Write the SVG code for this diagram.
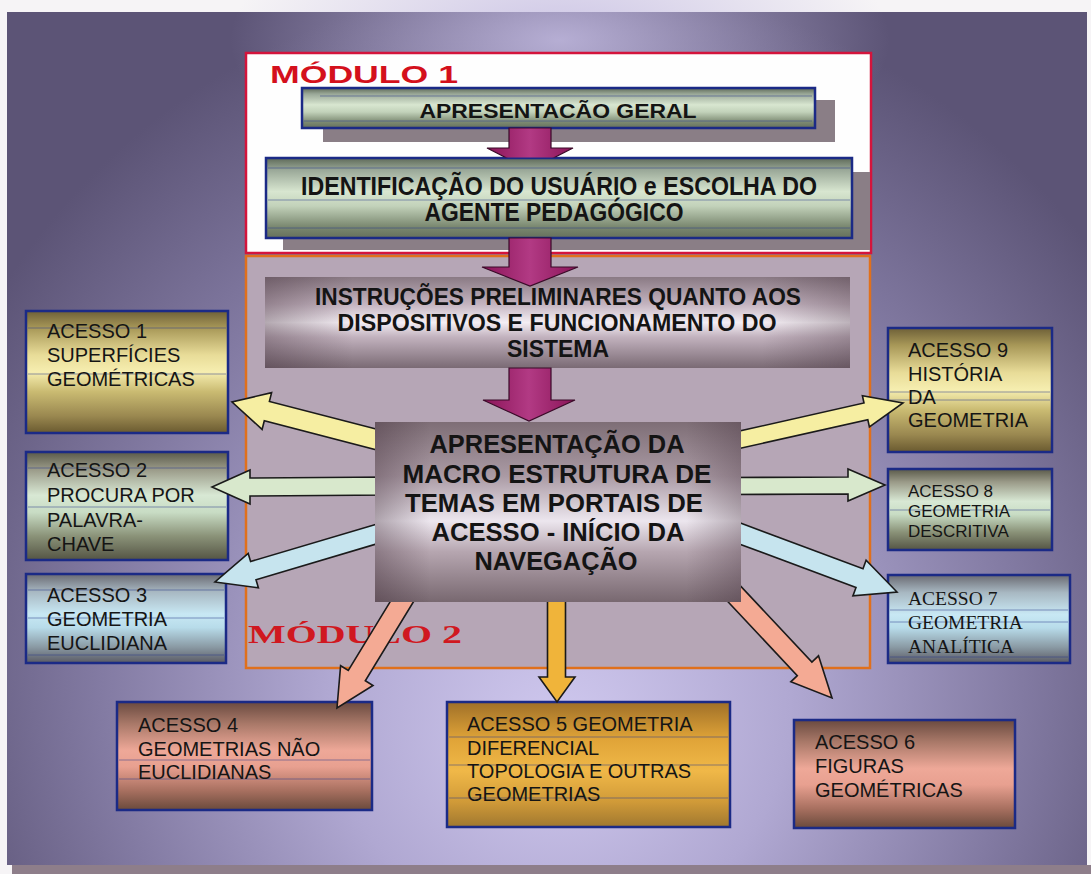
<svg xmlns="http://www.w3.org/2000/svg" width="1091" height="874" viewBox="0 0 1091 874" xml:space="preserve">
<style>
  .lbl { font-family: "Liberation Sans", Arial, sans-serif; font-size: 20px; fill: #151515; }
  .sm { font-size: 17px; }
  .serif { font-family: "Liberation Serif", "Times New Roman", serif; font-size: 19.5px; fill: #151515; }
  .bold { font-family: "Liberation Sans", Arial, sans-serif; font-weight: bold; fill: #141414; text-anchor: middle; }
  .box { stroke: #1b2a86; stroke-width: 2.5; }
  .arr { stroke: #1a1a1a; stroke-width: 1.6; stroke-linejoin: miter; }
  .mag { fill: url(#gMag); stroke: #3a0a28; stroke-width: 1.2; }
  .scan { stroke: #2c3c8c; stroke-width: 1; opacity: 0.5; }
  .shadow { fill: #8a7e86; }
</style>
<defs>
  <radialGradient id="bg" gradientUnits="userSpaceOnUse" cx="560" cy="640" r="660" fx="560" fy="740">
    <stop offset="0" stop-color="#d0c9ef"/>
    <stop offset="0.35" stop-color="#b0a8d2"/>
    <stop offset="0.7" stop-color="#827aa2"/>
    <stop offset="1" stop-color="#5c5476"/>
  </radialGradient>
  <radialGradient id="glow" cx="0.5" cy="0.5" r="0.5">
    <stop offset="0" stop-color="#c4bce2" stop-opacity="0.85"/>
    <stop offset="1" stop-color="#c4bce2" stop-opacity="0"/>
  </radialGradient>
  <linearGradient id="gMod" x1="0" y1="0" x2="0" y2="1">
    <stop offset="0" stop-color="#5e6a58"/>
    <stop offset="0.15" stop-color="#9aa898"/>
    <stop offset="0.42" stop-color="#d8e6d0"/>
    <stop offset="0.6" stop-color="#c2d2ba"/>
    <stop offset="0.85" stop-color="#7c8a72"/>
    <stop offset="1" stop-color="#66705c"/>
  </linearGradient>
  <linearGradient id="gInstr" x1="0" y1="0" x2="0" y2="1">
    <stop offset="0" stop-color="#8a7a84"/>
    <stop offset="0.3" stop-color="#c4b4c0"/>
    <stop offset="0.5" stop-color="#f4eef4"/>
    <stop offset="0.66" stop-color="#c2b2be"/>
    <stop offset="1" stop-color="#7a6a74"/>
  </linearGradient>
  <linearGradient id="gCenter" x1="0" y1="0" x2="0" y2="1">
    <stop offset="0" stop-color="#7e6e76"/>
    <stop offset="0.3" stop-color="#aa9aa4"/>
    <stop offset="0.55" stop-color="#ece6ee"/>
    <stop offset="0.72" stop-color="#b6a6b0"/>
    <stop offset="1" stop-color="#786870"/>
  </linearGradient>
  <linearGradient id="gEdge" x1="0" y1="0" x2="1" y2="0">
    <stop offset="0" stop-color="#3c2834" stop-opacity="0.35"/>
    <stop offset="0.15" stop-color="#3c2834" stop-opacity="0"/>
    <stop offset="0.85" stop-color="#3c2834" stop-opacity="0"/>
    <stop offset="1" stop-color="#3c2834" stop-opacity="0.3"/>
  </linearGradient>
  <linearGradient id="gGold" x1="0" y1="0" x2="0" y2="1">
    <stop offset="0" stop-color="#6e6038"/>
    <stop offset="0.14" stop-color="#a89858"/>
    <stop offset="0.36" stop-color="#e8dc98"/>
    <stop offset="0.5" stop-color="#f6eeb0"/>
    <stop offset="0.66" stop-color="#cabb72"/>
    <stop offset="0.86" stop-color="#9a8850"/>
    <stop offset="1" stop-color="#6a5a30"/>
  </linearGradient>
  <linearGradient id="gGreen" x1="0" y1="0" x2="0" y2="1">
    <stop offset="0" stop-color="#5a5a4a"/>
    <stop offset="0.16" stop-color="#9a9a88"/>
    <stop offset="0.4" stop-color="#d8e8d4"/>
    <stop offset="0.56" stop-color="#c8dcc4"/>
    <stop offset="0.78" stop-color="#8a9278"/>
    <stop offset="1" stop-color="#545444"/>
  </linearGradient>
  <linearGradient id="gBlue" x1="0" y1="0" x2="0" y2="1">
    <stop offset="0" stop-color="#6a6a72"/>
    <stop offset="0.2" stop-color="#a8b8c2"/>
    <stop offset="0.45" stop-color="#c8e8f4"/>
    <stop offset="0.6" stop-color="#b8dcea"/>
    <stop offset="0.82" stop-color="#8a9aa4"/>
    <stop offset="1" stop-color="#5a5a64"/>
  </linearGradient>
  <linearGradient id="gCopper" x1="0" y1="0" x2="0" y2="1">
    <stop offset="0" stop-color="#6a4a40"/>
    <stop offset="0.2" stop-color="#a87868"/>
    <stop offset="0.45" stop-color="#eea898"/>
    <stop offset="0.6" stop-color="#e8a090"/>
    <stop offset="0.82" stop-color="#a87060"/>
    <stop offset="1" stop-color="#6a4a3c"/>
  </linearGradient>
  <linearGradient id="gOrange" x1="0" y1="0" x2="0" y2="1">
    <stop offset="0" stop-color="#a07028"/>
    <stop offset="0.3" stop-color="#e0a438"/>
    <stop offset="0.55" stop-color="#f0b848"/>
    <stop offset="0.8" stop-color="#d09a38"/>
    <stop offset="1" stop-color="#a07830"/>
  </linearGradient>
  <linearGradient id="gMag" x1="0" y1="0" x2="1" y2="0">
    <stop offset="0" stop-color="#8a1458"/>
    <stop offset="0.5" stop-color="#b23a84"/>
    <stop offset="1" stop-color="#8a1458"/>
  </linearGradient>
  <clipPath id="clipTop">
    <rect x="400" y="120" width="300" height="37.5"/>
  </clipPath>
</defs>

<!-- page and backdrop -->
<g id="background">
  <rect x="0" y="0" width="1091" height="874" fill="#f6f4f6"/>
  <rect x="12" y="865" width="1079" height="9" fill="#8e7e8a"/>
  <rect x="7" y="12" width="1080" height="853" fill="url(#bg)"/>
  <ellipse cx="560" cy="40" rx="330" ry="140" fill="url(#glow)"/>
</g>

<!-- module frames -->
<g id="modulo1">
  <rect x="246" y="53" width="625" height="200" fill="#fefefe" stroke="#d4143c" stroke-width="2.5"/>
  <text x="270" y="83" font-family="'Liberation Sans', Arial, sans-serif" font-weight="bold" font-size="24" fill="#d4101c" textLength="188" lengthAdjust="spacingAndGlyphs">MÓDULO 1</text>
</g>
<g id="modulo2">
  <rect x="246" y="256" width="624" height="412" fill="#b6a6b6" stroke="#e0701c" stroke-width="2.5"/>
  <text x="248" y="643" font-family="'Liberation Serif', 'Times New Roman', serif" font-weight="bold" font-size="25" fill="#d01820" textLength="214" lengthAdjust="spacingAndGlyphs">MÓDULO 2</text>
</g>

<!-- module 1 steps -->
<g id="apresentacao-geral">
  <rect class="shadow" x="323" y="100" width="512" height="42"/>
  <rect class="box" x="302" y="88" width="513" height="40" fill="url(#gMod)"/>
  <line class="scan" x1="320" y1="96" x2="812" y2="96"/>
  <line class="scan" x1="304" y1="121" x2="812" y2="121"/>
  <text class="bold" x="558" y="118" font-size="21" textLength="277" lengthAdjust="spacingAndGlyphs">APRESENTACÃO GERAL</text>
</g>
<g id="identificacao">
  <rect class="shadow" x="283" y="172" width="587" height="78"/>
  <rect class="box" x="266" y="158" width="586" height="80" fill="url(#gMod)"/>
  <line class="scan" x1="268" y1="168" x2="850" y2="168"/>
  <line class="scan" x1="268" y1="200" x2="850" y2="200"/>
  <line class="scan" x1="268" y1="228" x2="850" y2="228"/>
  <text class="bold" x="559" y="195" font-size="25" textLength="516" lengthAdjust="spacingAndGlyphs">IDENTIFICAÇÃO DO USUÁRIO e  ESCOLHA DO</text>
  <text class="bold" x="554" y="221" font-size="25" textLength="259" lengthAdjust="spacingAndGlyphs">AGENTE PEDAGÓGICO</text>
</g>

<!-- module 2 steps -->
<g id="instrucoes">
  <rect x="265" y="277" width="585" height="91" fill="url(#gInstr)"/>
  <rect x="265" y="277" width="585" height="91" fill="url(#gEdge)"/>
  <text class="bold" x="558" y="305" font-size="23" textLength="486" lengthAdjust="spacingAndGlyphs">INSTRUÇÕES PRELIMINARES QUANTO AOS</text>
  <text class="bold" x="557" y="331" font-size="23" textLength="439" lengthAdjust="spacingAndGlyphs">DISPOSITIVOS E  FUNCIONAMENTO DO</text>
  <text class="bold" x="558" y="357" font-size="23" textLength="102" lengthAdjust="spacingAndGlyphs">SISTEMA</text>
</g>

<!-- access portals -->
<g id="acesso1">
  <rect class="box" x="26" y="311" width="202" height="122" fill="url(#gGold)"/>
  <line class="scan" x1="28" y1="328" x2="226" y2="328"/>
  <line class="scan" x1="28" y1="374" x2="226" y2="374"/>
  <text class="lbl" x="47" y="338">ACESSO  1</text>
  <text class="lbl" x="47" y="362">SUPERFÍCIES</text>
  <text class="lbl" x="47" y="386">GEOMÉTRICAS</text>
</g>
<g id="acesso2">
  <rect class="box" x="26" y="452" width="202" height="108" fill="url(#gGreen)"/>
  <line class="scan" x1="28" y1="468" x2="226" y2="468"/>
  <line class="scan" x1="28" y1="507" x2="226" y2="507"/>
  <text class="lbl" x="47" y="477">ACESSO  2</text>
  <text class="lbl" x="47" y="502">PROCURA POR</text>
  <text class="lbl" x="47" y="527">PALAVRA-</text>
  <text class="lbl" x="47" y="551">CHAVE</text>
</g>
<g id="acesso3">
  <rect class="box" x="26" y="574" width="200" height="89" fill="url(#gBlue)"/>
  <line class="scan" x1="28" y1="590" x2="224" y2="590"/>
  <line class="scan" x1="28" y1="618" x2="224" y2="618"/>
  <line class="scan" x1="28" y1="655" x2="224" y2="655"/>
  <text class="lbl" x="47" y="602">ACESSO  3</text>
  <text class="lbl" x="47" y="626">GEOMETRIA</text>
  <text class="lbl" x="47" y="650">EUCLIDIANA</text>
</g>
<g id="acesso9">
  <rect class="box" x="888" y="328" width="164" height="124" fill="url(#gGold)"/>
  <line class="scan" x1="890" y1="392" x2="1050" y2="392"/>
  <line class="scan" x1="890" y1="400" x2="1050" y2="400"/>
  <text class="lbl" x="908" y="357">ACESSO  9</text>
  <text class="lbl" x="908" y="381">HISTÓRIA</text>
  <text class="lbl" x="908" y="404">DA</text>
  <text class="lbl" x="908" y="427">GEOMETRIA</text>
</g>
<g id="acesso8">
  <rect class="box" x="888" y="469" width="164" height="81" fill="url(#gGreen)"/>
  <line class="scan" x1="890" y1="510" x2="1050" y2="510"/>
  <text class="lbl sm" x="908" y="497">ACESSO  8</text>
  <text class="lbl sm" x="908" y="517">GEOMETRIA</text>
  <text class="lbl sm" x="908" y="537">DESCRITIVA</text>
</g>
<g id="acesso7">
  <rect class="box" x="888" y="575" width="182" height="88" fill="url(#gBlue)"/>
  <line class="scan" x1="890" y1="610" x2="1068" y2="610"/>
  <line class="scan" x1="890" y1="622" x2="1068" y2="622"/>
  <line class="scan" x1="890" y1="657" x2="1068" y2="657"/>
  <text class="serif" x="908" y="605">ACESSO  7</text>
  <text class="serif" x="908" y="629">GEOMETRIA</text>
  <text class="serif" x="908" y="653">ANALÍTICA</text>
</g>
<g id="acesso4">
  <rect class="box" x="117" y="702" width="255" height="108" fill="url(#gCopper)"/>
  <line class="scan" x1="119" y1="760" x2="370" y2="760"/>
  <line class="scan" x1="119" y1="779" x2="370" y2="779"/>
  <text class="lbl" x="138" y="732">ACESSO  4</text>
  <text class="lbl" x="138" y="756">GEOMETRIAS NÃO</text>
  <text class="lbl" x="138" y="779">EUCLIDIANAS</text>
</g>
<g id="acesso5">
  <rect class="box" x="447" y="702" width="283" height="125" fill="url(#gOrange)"/>
  <line class="scan" x1="449" y1="737" x2="728" y2="737"/>
  <line class="scan" x1="449" y1="765" x2="728" y2="765"/>
  <line class="scan" x1="449" y1="798" x2="728" y2="798"/>
  <text class="lbl" x="467" y="731">ACESSO  5 GEOMETRIA</text>
  <text class="lbl" x="467" y="755">DIFERENCIAL</text>
  <text class="lbl" x="467" y="778">TOPOLOGIA E OUTRAS</text>
  <text class="lbl" x="467" y="801">GEOMETRIAS</text>
</g>
<g id="acesso6">
  <rect class="box" x="794" y="720" width="221" height="108" fill="url(#gCopper)"/>
  <text class="lbl" x="815" y="749">ACESSO  6</text>
  <text class="lbl" x="815" y="773">FIGURAS</text>
  <text class="lbl" x="815" y="797">GEOMÉTRICAS</text>
</g>

<!-- connectors -->
<g id="connectors">
  <polygon class="mag" clip-path="url(#clipTop)" points="509,128 551,128 551,148 573,148 530,170 487,148 509,148"/>
  <polygon class="mag" points="509,238 551,238 551,267 578,267 530,286 482,267 509,267"/>
  <polygon class="mag" points="509,368 551,368 551,400 575,400 529,421 483,400 509,400"/>

  <polygon class="arr" fill="#f6eea2" points="392.5,433.3 269.4,401.4 271.6,392.6 232,402 262.1,429.4 264.3,420.7 387.5,452.7"/>
  <polygon class="arr" fill="#d8e8cc" points="390,477 250,478 250,470 212,487 250,504 250,496 390,495"/>
  <polygon class="arr" fill="#c6e4ee" points="387.3,520.9 250.6,561.5 248.2,553.4 215,582 258.4,587.8 256,579.7 392.7,539.1"/>
  <polygon class="arr" fill="#f6eea2" points="726.9,451.3 867.8,419.6 869.4,426.9 903,403 862.4,395.7 864,403 723.1,434.7"/>
  <polygon class="arr" fill="#d8e8cc" points="725,477.5 848,477 848,469 885,485 848,501 848,494 725,494.5"/>
  <polygon class="arr" fill="#c6e4ee" points="721.5,537.4 856,587.4 852.9,595.9 897,592 866.1,560.2 863,568.7 728.5,518.6"/>
  <polygon class="arr" fill="#f4aa94" points="403.5,579.8 348.3,670.4 340.6,665.7 337,708 373,685.5 365.3,680.8 420.5,590.2"/>
  <polygon class="arr" fill="#f0b43a" points="547.5,585 547.5,677 539,677 557,702 575,677 565.5,677 565.5,585"/>
  <polygon class="arr" fill="#f4aa94" points="716.7,589.8 797.3,675.6 790.8,681.8 832,698 818.5,655.8 811.9,662 731.3,576.2"/>
</g>

<!-- central hub -->
<g id="macro-estrutura">
  <rect x="375" y="422" width="366" height="180" fill="url(#gCenter)"/>
  <rect x="375" y="422" width="366" height="180" fill="url(#gEdge)"/>
  <text class="bold" x="557" y="453" font-size="25" textLength="255" lengthAdjust="spacingAndGlyphs">APRESENTAÇÃO DA</text>
  <text class="bold" x="557" y="483" font-size="25" textLength="309" lengthAdjust="spacingAndGlyphs">MACRO ESTRUTURA  DE</text>
  <text class="bold" x="554" y="512" font-size="25" textLength="298" lengthAdjust="spacingAndGlyphs">TEMAS EM PORTAIS DE</text>
  <text class="bold" x="558" y="541" font-size="25" textLength="253" lengthAdjust="spacingAndGlyphs">ACESSO - INÍCIO DA</text>
  <text class="bold" x="556" y="570" font-size="25" textLength="163" lengthAdjust="spacingAndGlyphs">NAVEGAÇÃO</text>
</g>
</svg>
